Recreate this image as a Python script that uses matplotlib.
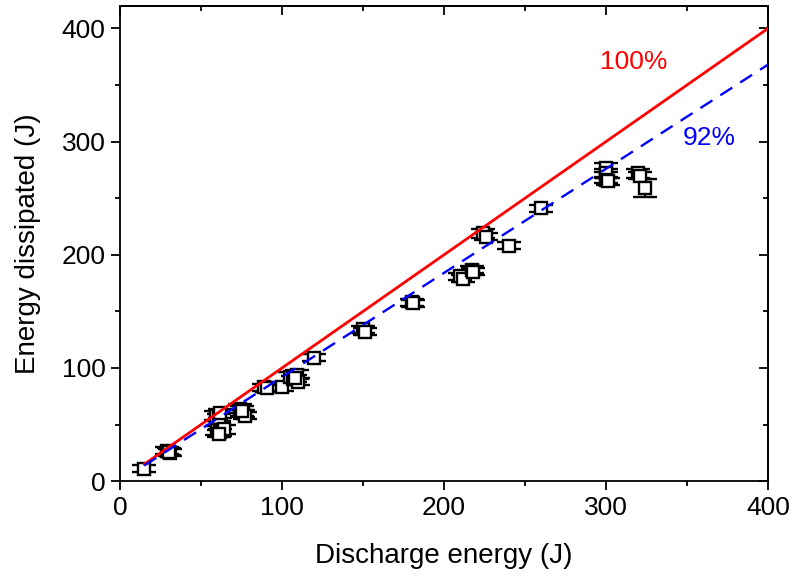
import numpy as np
import matplotlib
matplotlib.use("Agg")
import matplotlib.pyplot as plt
from matplotlib.ticker import MultipleLocator

plt.rcParams['font.family'] = ['Liberation Sans', 'DejaVu Sans']

# measured discharge energy vs dissipated energy, with error bars
discharge = [15, 29, 31, 30, 59, 61, 62, 60, 62, 64, 61, 74, 76, 77, 75,
             89, 91, 100, 105, 107, 109, 110, 108, 120, 150, 151, 180, 181,
             210, 212, 217, 218, 224, 226, 240, 260, 300, 300, 300, 301,
             320, 321, 324]
dissipated = [11, 27, 25, 26, 58, 56, 60, 45, 43, 46, 42, 64, 60, 58, 62,
              83, 82, 83, 92, 90, 94, 88, 91, 109, 134, 132, 158, 157,
              181, 179, 187, 185, 219, 216, 208, 241, 277, 272, 266, 265,
              272, 270, 259]
dissipated_err = [3, 3, 3, 3, 4, 3, 4, 4, 3, 4, 3, 4, 3, 3, 4,
                  3, 3, 3, 4, 3, 4, 3, 3, 3, 3, 3, 3, 3,
                  3, 3, 3, 3, 4, 3, 3, 3, 4, 4, 3, 3,
                  4, 3, 8]

# reference efficiency lines
line_x = [15, 400]
eff_full = 1.00
eff_fit = 0.92

fig = plt.figure(figsize=(7.95, 5.79), dpi=100)
ax = fig.add_axes([0.151, 0.169, 0.815, 0.821])

ax.errorbar(discharge, dissipated, yerr=dissipated_err, fmt='s', mfc='white',
            mec='black', mew=1.7, ms=8, ecolor='black', elinewidth=1.6,
            capsize=8.5, capthick=2.2, zorder=2)

ax.plot(line_x, [eff_full * v for v in line_x], color='red', lw=2, zorder=3)
ax.plot(line_x, [eff_fit * v for v in line_x], color='blue', lw=1.7,
        ls=(0, (6, 4)), zorder=3)

ax.text(317, 370, '100%', color='red', fontsize=19, ha='center', va='center')
ax.text(364, 303, '92%', color='blue', fontsize=19, ha='center', va='center')

ax.set_xlim(0, 400)
ax.set_ylim(0, 420)
ax.xaxis.set_major_locator(MultipleLocator(100))
ax.xaxis.set_minor_locator(MultipleLocator(50))
ax.yaxis.set_major_locator(MultipleLocator(100))
ax.yaxis.set_minor_locator(MultipleLocator(50))
ax.tick_params(which='both', direction='out', labelsize=19, width=1.3, pad=4)
ax.tick_params(which='major', length=6.5)
ax.tick_params(which='minor', length=3.5)

# inward ticks on the top and right frame edges
top = ax.secondary_xaxis('top')
right = ax.secondary_yaxis('right')
for sec in (top, right):
    sec.tick_params(which='both', direction='in', labelleft=False,
                    labelright=False, labeltop=False, labelbottom=False,
                    width=1.3)
    sec.tick_params(which='major', length=6.5)
    sec.tick_params(which='minor', length=3.5)
top.xaxis.set_major_locator(MultipleLocator(100))
top.xaxis.set_minor_locator(MultipleLocator(50))
right.yaxis.set_major_locator(MultipleLocator(100))
right.yaxis.set_minor_locator(MultipleLocator(50))
for s in list(ax.spines.values()) + [top.spines['top'], right.spines['right']]:
    s.set_linewidth(1.3)

ax.set_xlabel('Discharge energy (J)', fontsize=20, labelpad=17)
ax.set_ylabel('Energy dissipated (J)', fontsize=20, labelpad=15)

fig.savefig('out.png', dpi=100)
